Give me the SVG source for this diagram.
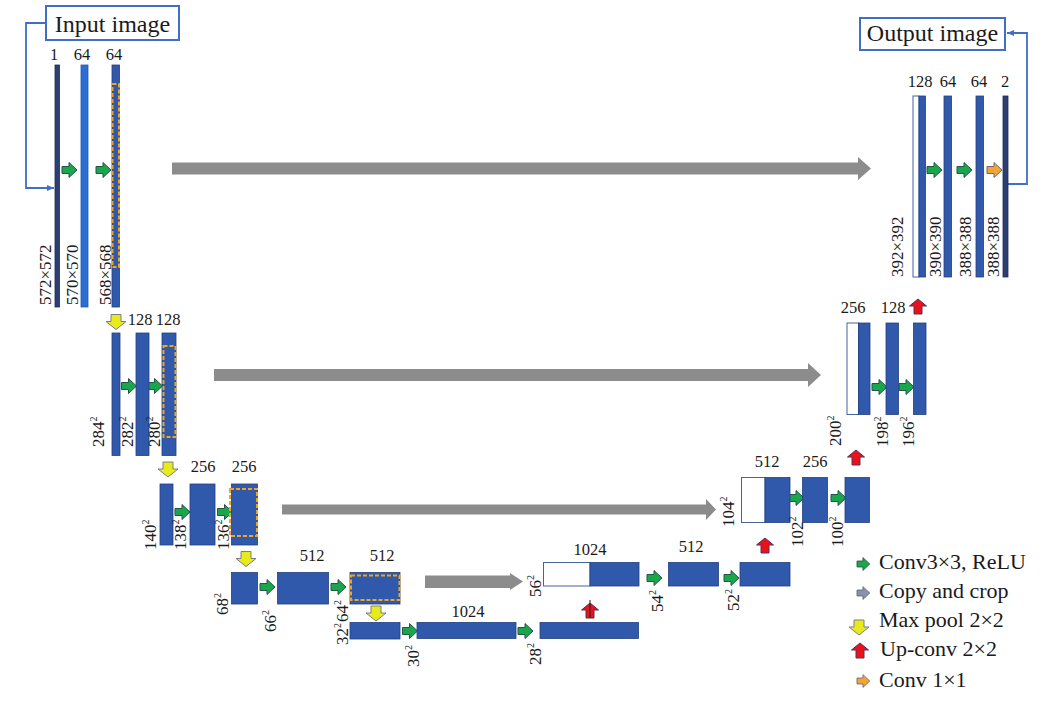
<svg xmlns="http://www.w3.org/2000/svg" width="1049" height="705" viewBox="0 0 1049 705">
<style>
text{font-family:"Liberation Serif","Times New Roman",serif;fill:#1a1a1a}
.n{font-size:16.5px;text-anchor:middle}
.r{font-size:17px}
.s{font-size:10px}
.big{font-size:24px;text-anchor:middle}
.lg{font-size:22px}
.b{fill:#3159ab;stroke:#22407f;stroke-width:0.8}
.nv{fill:#2b3f72;stroke:#1e2d55;stroke-width:0.8}
.br{fill:#2b6ed4;stroke:#2459b0;stroke-width:0.8}
.w{fill:#fff;stroke:#45649c;stroke-width:1}
.d{fill:none;stroke:#f2a51c;stroke-width:2;stroke-dasharray:4 2}
.box{fill:#fff;stroke:#3f6fc7;stroke-width:2}
.cn{fill:none;stroke:#3f6fc7;stroke-width:1.8}
.gr{fill:#8c8c8c}
.g{fill:#1aa64a;stroke:#24544a;stroke-width:1}
.o{fill:#f4a435;stroke:#6b6a70;stroke-width:1}
.c{fill:#8a93a8;stroke:#5e6675;stroke-width:1}
.y{fill:#e9ea1c;stroke:#7a7f86;stroke-width:1}
.rd{fill:#e8121b;stroke:#57305a;stroke-width:1}
</style>
<defs>
<path id="ra" d="M0,-3.5 H7 V-7.5 L15,0 L7,7.5 V3.5 H0 Z"/>
<path id="da" d="M-5,0 H5 V7 H10 L0,15 L-10,7 H-5 Z"/>
<path id="ua" d="M-4,15 H4 V7 H8.5 L0,0 L-8.5,7 H-4 Z"/>
<marker id="ah" markerWidth="8" markerHeight="8" refX="7" refY="4" orient="auto" markerUnits="userSpaceOnUse">
<path d="M0,1 L7,4 L0,7 Z" fill="#3f6fc7"/>
</marker>
</defs>

<g id="connectors">
<polyline class="cn" points="46,23 26,23 26,188 54,188" marker-end="url(#ah)"/>
<polyline class="cn" points="1008,184 1027,184 1027,33 1007,33" marker-end="url(#ah)"/>
<path class="gr" d="M172,162.5 H858 V157 L871,168.5 L858,180 V174.5 H172 Z"/>
<path class="gr" d="M214,369 H808 V363 L821,375 L808,387 V381 H214 Z"/>
<path class="gr" d="M282,504.5 H706 V499 L716,509.5 L706,520 V514.5 H282 Z"/>
<path class="gr" d="M425,575.5 H510 V573 L523,581.5 L510,590 V588 H425 Z"/>
<use href="#ra" class="g" x="62" y="170"/>
<use href="#ra" class="g" x="96" y="170"/>
<use href="#ra" class="g" x="927" y="170"/>
<use href="#ra" class="g" x="957" y="170"/>
<use href="#ra" class="o" x="987" y="170"/>
<use href="#ra" class="g" x="121.5" y="386"/>
<use href="#ra" class="g" x="147.5" y="386"/>
<use href="#ra" class="g" x="872" y="387"/>
<use href="#ra" class="g" x="899" y="387"/>
<use href="#ra" class="g" x="175" y="512"/>
<use href="#ra" class="g" x="217.5" y="512"/>
<use href="#ra" class="g" x="789" y="498"/>
<use href="#ra" class="g" x="831" y="498"/>
<use href="#ra" class="g" x="260" y="587"/>
<use href="#ra" class="g" x="331" y="587"/>
<use href="#ra" class="g" x="647" y="578"/>
<use href="#ra" class="g" x="724" y="578"/>
<use href="#ra" class="g" x="402.5" y="631"/>
<use href="#ra" class="g" x="518" y="631"/>
<use href="#da" class="y" x="116" y="314.5"/>
<use href="#da" class="y" x="168" y="462"/>
<use href="#da" class="y" x="246" y="551.5"/>
<use href="#da" class="y" x="376" y="606"/>
<use href="#ua" class="rd" x="590" y="603"/>
<line x1="590" y1="600" x2="590" y2="618" stroke="#222" stroke-width="1"/>
<use href="#ua" class="rd" x="765" y="538"/>
<use href="#ua" class="rd" x="856" y="450"/>
<use href="#ua" class="rd" x="918" y="299"/>
</g>

<g id="input-image"><rect class="box" x="46" y="6" width="133" height="34"/><text class="big" x="112.5" y="32">Input image</text></g>
<g id="output-image"><rect class="box" x="860" y="18" width="145" height="32"/><text class="big" x="932.5" y="41">Output image</text></g>

<g id="l1-input"><rect class="nv" x="55" y="65" width="4.5" height="242"/><text class="n" x="54" y="60">1</text><text class="r" transform="translate(51,305) rotate(-90)">572×572</text></g>
<g id="l1-conv1"><rect class="br" x="81" y="65" width="7" height="242"/><text class="n" x="82" y="60">64</text><text class="r" transform="translate(77.5,305) rotate(-90)">570×570</text></g>
<g id="l1-conv2"><rect class="b" x="112" y="65" width="7.5" height="242"/><rect class="d" x="112.5" y="84" width="6.5" height="183"/><text class="n" x="114" y="60">64</text><text class="r" transform="translate(110.5,305) rotate(-90)">568×568</text></g>

<g id="l2-pool"><rect class="b" x="112" y="333" width="8" height="122.5"/><text class="r" transform="translate(104,447) rotate(-90)">284<tspan class="s" dy="-7">2</tspan></text></g>
<g id="l2-conv1"><rect class="b" x="136" y="333" width="13" height="122.5"/><text class="n" x="140" y="325">128</text><text class="r" transform="translate(132.5,447) rotate(-90)">282<tspan class="s" dy="-7">2</tspan></text></g>
<g id="l2-conv2"><rect class="b" x="162" y="333" width="14" height="122.5"/><rect class="d" x="163.5" y="346" width="12" height="91"/><text class="n" x="168" y="325">128</text><text class="r" transform="translate(160,447) rotate(-90)">280<tspan class="s" dy="-7">2</tspan></text></g>

<g id="l3-pool"><rect class="b" x="160" y="484" width="13" height="61"/><text class="r" transform="translate(156,550) rotate(-90)">140<tspan class="s" dy="-7">2</tspan></text></g>
<g id="l3-conv1"><rect class="b" x="190" y="484" width="25" height="61"/><text class="n" x="203" y="472">256</text><text class="r" transform="translate(186,550) rotate(-90)">138<tspan class="s" dy="-7">2</tspan></text></g>
<g id="l3-conv2"><rect class="b" x="231.5" y="484" width="26" height="61"/><rect class="d" x="230" y="489" width="27" height="47"/><text class="n" x="244" y="472">256</text><text class="r" transform="translate(229,550) rotate(-90)">136<tspan class="s" dy="-7">2</tspan></text></g>

<g id="l4-pool"><rect class="b" x="231.5" y="572.5" width="26" height="31.5"/><text class="r" transform="translate(227.5,615) rotate(-90)">68<tspan class="s" dy="-7">2</tspan></text></g>
<g id="l4-conv1"><rect class="b" x="277.5" y="572.5" width="51" height="31.5"/><text class="n" x="312" y="561">512</text><text class="r" transform="translate(276,632) rotate(-90)">66<tspan class="s" dy="-7">2</tspan></text></g>
<g id="l4-conv2"><rect class="b" x="350" y="572.5" width="50" height="31.5"/><rect class="d" x="351" y="575.5" width="48.5" height="24.5"/><text class="n" x="382" y="561">512</text><text class="r" transform="translate(347.5,622) rotate(-90)">64<tspan class="s" dy="-7">2</tspan></text></g>

<g id="l5-pool"><rect class="b" x="350" y="622.5" width="50" height="16.5"/><text class="r" transform="translate(347.5,645) rotate(-90)">32<tspan class="s" dy="-7">2</tspan></text></g>
<g id="l5-conv1"><rect class="b" x="417" y="622.5" width="99" height="16"/><text class="n" x="468" y="617">1024</text><text class="r" transform="translate(419,667) rotate(-90)">30<tspan class="s" dy="-7">2</tspan></text></g>
<g id="l5-conv2"><rect class="b" x="540" y="622.5" width="98.5" height="16"/><text class="r" transform="translate(541,665) rotate(-90)">28<tspan class="s" dy="-7">2</tspan></text></g>

<g id="r4-concat"><rect class="w" x="543.5" y="562.5" width="46.5" height="23.5"/><rect class="b" x="590" y="562.5" width="49" height="23.5"/><text class="n" x="590" y="555">1024</text><text class="r" transform="translate(541,597) rotate(-90)">56<tspan class="s" dy="-7">2</tspan></text></g>
<g id="r4-conv1"><rect class="b" x="668.5" y="562.5" width="50" height="23.5"/><text class="n" x="691" y="552">512</text><text class="r" transform="translate(662.5,612) rotate(-90)">54<tspan class="s" dy="-7">2</tspan></text></g>
<g id="r4-conv2"><rect class="b" x="740" y="562.5" width="50" height="23.5"/><text class="r" transform="translate(739,611) rotate(-90)">52<tspan class="s" dy="-7">2</tspan></text></g>

<g id="r3-concat"><rect class="w" x="741.5" y="477.5" width="23.5" height="45"/><rect class="b" x="765" y="477.5" width="25" height="45"/><text class="n" x="767" y="467">512</text><text class="r" transform="translate(734,527) rotate(-90)">104<tspan class="s" dy="-7">2</tspan></text></g>
<g id="r3-conv1"><rect class="b" x="802.5" y="477.5" width="25" height="45"/><text class="n" x="815" y="467">256</text><text class="r" transform="translate(802.5,547) rotate(-90)">102<tspan class="s" dy="-7">2</tspan></text></g>
<g id="r3-conv2"><rect class="b" x="845" y="477.5" width="24.5" height="45"/><text class="r" transform="translate(842.5,547) rotate(-90)">100<tspan class="s" dy="-7">2</tspan></text></g>

<g id="r2-concat"><rect class="w" x="847" y="323" width="11.5" height="91.5"/><rect class="b" x="858.5" y="323" width="11.5" height="91.5"/><text class="n" x="853" y="313">256</text><text class="r" transform="translate(841,446) rotate(-90)">200<tspan class="s" dy="-7">2</tspan></text></g>
<g id="r2-conv1"><rect class="b" x="886" y="323" width="12.5" height="91.5"/><text class="n" x="893" y="313">128</text><text class="r" transform="translate(887.5,447) rotate(-90)">198<tspan class="s" dy="-7">2</tspan></text></g>
<g id="r2-conv2"><rect class="b" x="913.5" y="323" width="12.5" height="91.5"/><text class="r" transform="translate(914,447) rotate(-90)">196<tspan class="s" dy="-7">2</tspan></text></g>

<g id="r1-concat"><rect class="w" x="913" y="96" width="6" height="181"/><rect class="b" x="919" y="96" width="6.5" height="181"/><text class="n" x="920" y="87">128</text><text class="r" transform="translate(902.5,277) rotate(-90)">392×392</text></g>
<g id="r1-conv1"><rect class="b" x="944" y="96" width="7.5" height="181"/><text class="n" x="948" y="87">64</text><text class="r" transform="translate(941,277) rotate(-90)">390×390</text></g>
<g id="r1-conv2"><rect class="b" x="976" y="96" width="7.5" height="181"/><text class="n" x="979" y="87">64</text><text class="r" transform="translate(971,277) rotate(-90)">388×388</text></g>
<g id="r1-output"><rect class="nv" x="1003" y="96" width="5" height="181"/><text class="n" x="1005" y="87">2</text><text class="r" transform="translate(999,277) rotate(-90)">388×388</text></g>

<g id="legend">
<use href="#ra" class="g" x="857" y="564" transform="translate(857,564) scale(0.85) translate(-857,-564)"/>
<text class="lg" x="879" y="569">Conv3×3, ReLU</text>
<use href="#ra" class="c" x="857" y="593" transform="translate(857,593) scale(0.85) translate(-857,-593)"/>
<text class="lg" x="879" y="598">Copy and crop</text>
<use href="#da" class="y" x="859" y="620"/>
<text class="lg" x="879" y="627">Max pool 2×2</text>
<use href="#ua" class="rd" x="860" y="643"/>
<text class="lg" x="880" y="656">Up-conv 2×2</text>
<use href="#ra" class="o" x="857" y="681" transform="translate(857,681) scale(0.85) translate(-857,-681)"/>
<text class="lg" x="879" y="687">Conv 1×1</text>
</g>
</svg>
